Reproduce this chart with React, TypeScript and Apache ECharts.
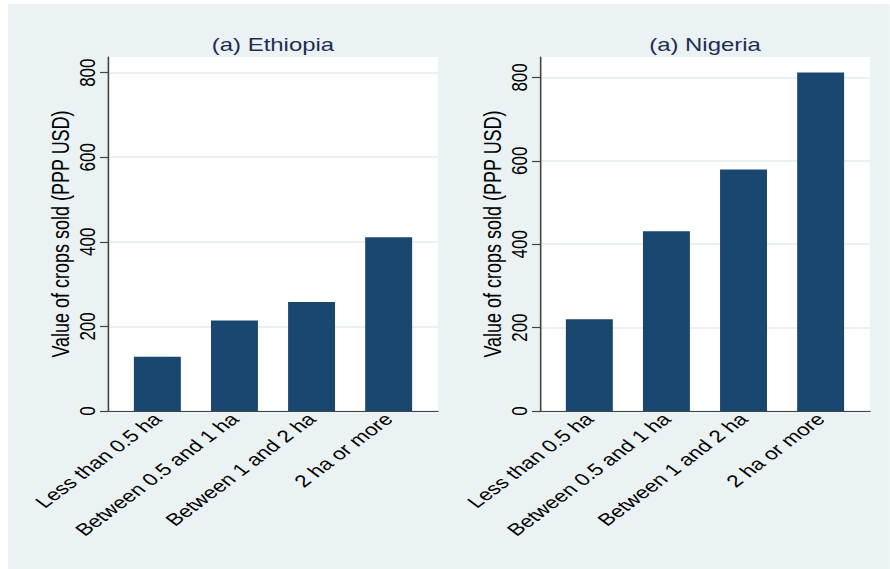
import { useEffect, useRef } from 'react';
import * as echarts from 'echarts';

// Farm-size categories shown on both panels
const categories = ['Less than 0.5 ha', 'Between 0.5 and 1 ha', 'Between 1 and 2 ha', '2 ha or more'];
const categoryPositions = [1, 2, 3, 4];

// Mean value of crops sold (PPP USD) by farm size
const ethiopiaValues = [128, 214, 258, 411];
const nigeriaValues = [220, 431, 579, 812];

// Shared axis ticks and texts
const yTicks = [0, 200, 400, 600, 800];
const panelTitles = ['(a) Ethiopia', '(a) Nigeria'];
const yAxisTitle = 'Value of crops sold (PPP USD)';

// The chart is laid out in a narrower box and widened horizontally by CSS
const STRETCH = 1.33;
const BOX_W = 663;
const BOX_H = 565;

const FONT = '"Liberation Sans", Arial, Helvetica, sans-serif';
const AXIS_COLOR = '#444';
const BAR_COLOR = '#1a476f';
const BG_COLOR = '#eaf2f3';
const GRID_LINE = '#e4ecef';

const panels = [
  { title: panelTitles[0], values: ethiopiaValues, yMax: 837, left: 75.2 },
  { title: panelTitles[1], values: nigeriaValues, yMax: 849, left: 400 },
];
const PLOT_W = 248.1;
const PLOT_TOP = 53;
const PLOT_H = 354;

function buildOption(): echarts.EChartsCoreOption {
  return {
    animation: false,
    backgroundColor: BG_COLOR,
    textStyle: { fontFamily: FONT },
    graphic: panels.map((p) => ({
      type: 'text',
      x: p.left + PLOT_W / 2,
      y: 41,
      style: {
        text: p.title,
        align: 'center',
        verticalAlign: 'middle',
        fontFamily: FONT,
        fontSize: 18,
        fill: '#1f2d52',
      },
    })),
    grid: panels.map((p) => ({
      left: p.left,
      top: PLOT_TOP,
      width: PLOT_W,
      height: PLOT_H,
      show: true,
      backgroundColor: '#ffffff',
      borderWidth: 0,
      containLabel: false,
    })),
    xAxis: panels.map((_, i) => ({
      type: 'value',
      gridIndex: i,
      min: 0.36,
      max: 4.64,
      axisLine: { show: true, onZero: false, lineStyle: { color: AXIS_COLOR, width: 1.2 } },
      axisTick: { show: false },
      splitLine: { show: false },
      axisLabel: {
        customValues: categoryPositions,
        formatter: (v: number) => categories[Math.round(v) - 1] ?? '',
        rotate: 45,
        fontSize: 17,
        margin: 5,
        color: '#000',
        fontFamily: FONT,
      },
    })),
    yAxis: panels.map((p, i) => ({
      type: 'value',
      gridIndex: i,
      min: 0,
      max: p.yMax,
      name: yAxisTitle,
      nameLocation: 'middle',
      nameGap: 27,
      nameTextStyle: { fontSize: 18, color: '#000', fontFamily: FONT },
      axisLine: { show: true, onZero: false, lineStyle: { color: AXIS_COLOR, width: 1.2 } },
      axisTick: { show: true, length: 6, customValues: yTicks, lineStyle: { color: AXIS_COLOR, width: 1.2 } },
      axisLabel: {
        customValues: yTicks,
        rotate: 90,
        fontSize: 17,
        margin: 7,
        color: '#000',
        fontFamily: FONT,
      },
      splitLine: { show: true, lineStyle: { color: GRID_LINE, width: 1.5 } },
    })),
    series: panels.map((p, i) => ({
      type: 'bar',
      xAxisIndex: i,
      yAxisIndex: i,
      barWidth: 35.3,
      itemStyle: { color: BAR_COLOR },
      data: p.values.map((v, k) => [categoryPositions[k], v]),
    })),
  };
}

export default function App() {
  const ref = useRef<HTMLDivElement>(null);

  useEffect(() => {
    if (!ref.current) return;
    const chart = echarts.init(ref.current, undefined, { renderer: 'svg' });
    chart.setOption(buildOption());
    return () => chart.dispose();
  }, []);

  return (
    <div
      ref={ref}
      style={{
        position: 'absolute',
        left: 8,
        top: 4,
        width: BOX_W,
        height: BOX_H,
        transform: `scaleX(${STRETCH})`,
        transformOrigin: '0 0',
      }}
    />
  );
}
